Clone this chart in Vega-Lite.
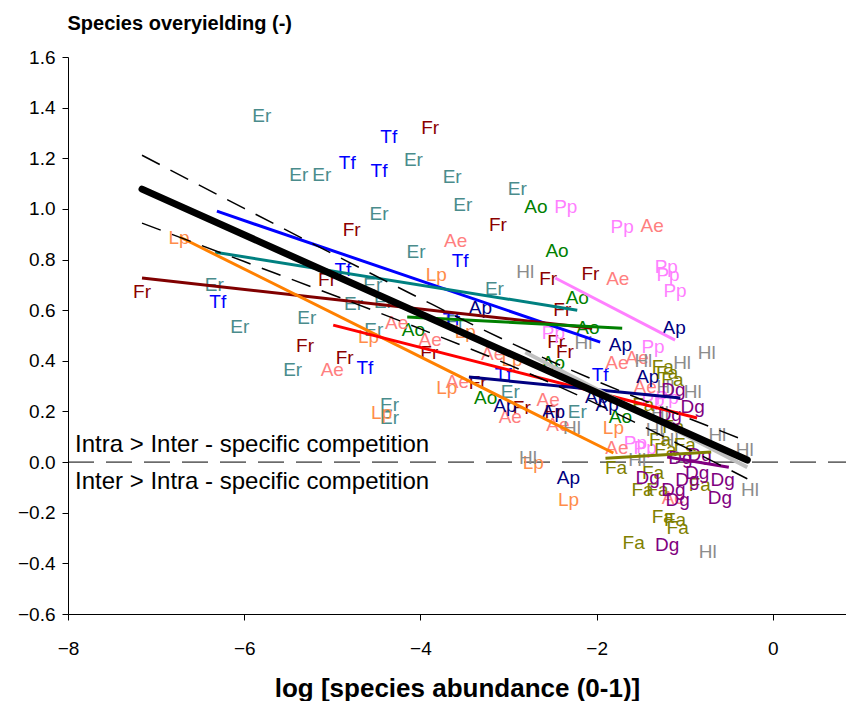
{
  "$schema": "https://vega.github.io/schema/vega-lite/v6.json",
  "autosize": {"type": "none"},
  "width": 778,
  "height": 557,
  "padding": {"left": 68, "top": 57, "right": 0, "bottom": 87},
  "background": "white",
  "config": {"font": "Liberation Sans", "view": {"stroke": null}},
  "datasets": {
    "lab": [
      {"sp":"Er","x":-5.80,"y":1.366},{"sp":"Er","x":-5.38,"y":1.133},{"sp":"Er","x":-5.12,"y":1.133},{"sp":"Er","x":-4.08,"y":1.193},{"sp":"Er","x":-3.64,"y":1.126},{"sp":"Er","x":-4.47,"y":0.979},{"sp":"Er","x":-3.52,"y":1.015},{"sp":"Er","x":-2.90,"y":1.078},{"sp":"Er","x":-4.05,"y":0.829},{"sp":"Er","x":-3.16,"y":0.683},{"sp":"Er","x":-6.34,"y":0.699},{"sp":"Er","x":-4.54,"y":0.699},{"sp":"Er","x":-4.76,"y":0.624},{"sp":"Er","x":-4.42,"y":0.632},{"sp":"Er","x":-6.05,"y":0.533},{"sp":"Er","x":-5.29,"y":0.569},{"sp":"Er","x":-4.53,"y":0.521},{"sp":"Er","x":-3.61,"y":0.553},{"sp":"Er","x":-5.45,"y":0.363},{"sp":"Er","x":-2.98,"y":0.276},{"sp":"Er","x":-2.22,"y":0.197},{"sp":"Er","x":-4.35,"y":0.225},{"sp":"Er","x":-4.35,"y":0.174},
      {"sp":"Tf","x":-4.36,"y":1.284},{"sp":"Tf","x":-4.83,"y":1.181},{"sp":"Tf","x":-4.47,"y":1.149},{"sp":"Tf","x":-3.55,"y":0.794},{"sp":"Tf","x":-6.30,"y":0.632},{"sp":"Tf","x":-4.88,"y":0.758},{"sp":"Tf","x":-3.65,"y":0.561},{"sp":"Tf","x":-4.63,"y":0.371},{"sp":"Tf","x":-3.06,"y":0.344},{"sp":"Tf","x":-1.96,"y":0.344},
      {"sp":"Fr","x":-3.89,"y":1.319},{"sp":"Fr","x":-4.78,"y":0.916},{"sp":"Fr","x":-3.12,"y":0.936},{"sp":"Fr","x":-2.55,"y":0.723},{"sp":"Fr","x":-2.07,"y":0.743},{"sp":"Fr","x":-7.16,"y":0.671},{"sp":"Fr","x":-5.06,"y":0.719},{"sp":"Fr","x":-2.39,"y":0.600},{"sp":"Fr","x":-5.31,"y":0.458},{"sp":"Fr","x":-3.90,"y":0.430},{"sp":"Fr","x":-4.86,"y":0.411},{"sp":"Fr","x":-2.46,"y":0.474},{"sp":"Fr","x":-2.36,"y":0.434},{"sp":"Fr","x":-3.35,"y":0.312},{"sp":"Fr","x":-2.85,"y":0.213},{"sp":"Fr","x":-2.49,"y":0.197},
      {"sp":"Ao","x":-2.69,"y":1.007},{"sp":"Ao","x":-2.45,"y":0.833},{"sp":"Ao","x":-2.22,"y":0.648},{"sp":"Ao","x":-2.10,"y":0.529},{"sp":"Ao","x":-4.08,"y":0.521},{"sp":"Ao","x":-2.49,"y":0.391},{"sp":"Ao","x":-3.26,"y":0.253},{"sp":"Ao","x":-1.73,"y":0.178},
      {"sp":"Pp","x":-2.35,"y":1.007},{"sp":"Pp","x":-1.71,"y":0.928},{"sp":"Pp","x":-1.21,"y":0.770},{"sp":"Pp","x":-1.19,"y":0.739},{"sp":"Pp","x":-1.11,"y":0.675},{"sp":"Pp","x":-2.49,"y":0.509},{"sp":"Pp","x":-1.36,"y":0.454},{"sp":"Pp","x":-1.36,"y":0.245},{"sp":"Pp","x":-1.20,"y":0.253},{"sp":"Pp","x":-1.56,"y":0.075},{"sp":"Pp","x":-1.45,"y":0.055},
      {"sp":"Ae","x":-3.60,"y":0.873},{"sp":"Ae","x":-1.37,"y":0.932},{"sp":"Ae","x":-1.76,"y":0.723},{"sp":"Ae","x":-4.27,"y":0.549},{"sp":"Ae","x":-3.89,"y":0.482},{"sp":"Ae","x":-5.00,"y":0.363},{"sp":"Ae","x":-3.18,"y":0.427},{"sp":"Ae","x":-3.58,"y":0.316},{"sp":"Ae","x":-2.98,"y":0.178},{"sp":"Ae","x":-2.55,"y":0.245},{"sp":"Ae","x":-2.44,"y":0.146},{"sp":"Ae","x":-1.77,"y":0.391},{"sp":"Ae","x":-1.54,"y":0.411},{"sp":"Ae","x":-1.45,"y":0.296},{"sp":"Ae","x":-1.77,"y":0.055},{"sp":"Ae","x":-1.13,"y":-0.142},
      {"sp":"Lp","x":-6.74,"y":0.885},{"sp":"Lp","x":-3.82,"y":0.739},{"sp":"Lp","x":-4.59,"y":0.494},{"sp":"Lp","x":-3.49,"y":0.513},{"sp":"Lp","x":-2.96,"y":0.403},{"sp":"Lp","x":-3.70,"y":0.292},{"sp":"Lp","x":-4.44,"y":0.194},{"sp":"Lp","x":-2.72,"y":-0.004},{"sp":"Lp","x":-2.32,"y":-0.150},{"sp":"Lp","x":-1.81,"y":0.134},
      {"sp":"Ap","x":-3.32,"y":0.608},{"sp":"Ap","x":-1.12,"y":0.529},{"sp":"Ap","x":-1.73,"y":0.462},{"sp":"Ap","x":-1.42,"y":0.336},{"sp":"Ap","x":-2.00,"y":0.257},{"sp":"Ap","x":-1.88,"y":0.225},{"sp":"Ap","x":-3.04,"y":0.221},{"sp":"Ap","x":-2.49,"y":0.197},{"sp":"Ap","x":-2.32,"y":-0.063},
      {"sp":"Hl","x":-2.81,"y":0.750},{"sp":"Hl","x":-2.15,"y":0.470},{"sp":"Hl","x":-0.75,"y":0.430},{"sp":"Hl","x":-1.47,"y":0.399},{"sp":"Hl","x":-1.03,"y":0.391},{"sp":"Hl","x":-1.22,"y":0.296},{"sp":"Hl","x":-0.91,"y":0.276},{"sp":"Hl","x":-1.28,"y":0.194},{"sp":"Hl","x":-1.34,"y":0.126},{"sp":"Hl","x":-0.63,"y":0.107},{"sp":"Hl","x":-0.32,"y":0.047},{"sp":"Hl","x":-2.28,"y":0.134},{"sp":"Hl","x":-2.78,"y":0.016},{"sp":"Hl","x":-1.54,"y":0.008},{"sp":"Hl","x":-0.26,"y":-0.111},{"sp":"Hl","x":-0.74,"y":-0.355},{"sp":"Hl","x":-1.17,"y":0.087},
      {"sp":"Fa","x":-1.25,"y":0.375},{"sp":"Fa","x":-1.20,"y":0.352},{"sp":"Fa","x":-1.14,"y":0.324},{"sp":"Fa","x":-1.47,"y":0.225},{"sp":"Fa","x":-1.13,"y":0.138},{"sp":"Fa","x":-1.78,"y":-0.024},{"sp":"Fa","x":-1.36,"y":-0.043},{"sp":"Fa","x":-1.48,"y":-0.111},{"sp":"Fa","x":-1.31,"y":-0.111},{"sp":"Fa","x":-1.25,"y":-0.217},{"sp":"Fa","x":-1.11,"y":-0.229},{"sp":"Fa","x":-1.08,"y":-0.261},{"sp":"Fa","x":-1.58,"y":-0.320},{"sp":"Fa","x":-0.83,"y":-0.091},{"sp":"Fa","x":-1.22,"y":0.047},{"sp":"Fa","x":-1.00,"y":0.067},{"sp":"Fa","x":-1.28,"y":0.087},
      {"sp":"Dg","x":-1.13,"y":0.284},{"sp":"Dg","x":-0.91,"y":0.217},{"sp":"Dg","x":-1.17,"y":0.186},{"sp":"Dg","x":-1.42,"y":-0.063},{"sp":"Dg","x":-1.13,"y":-0.111},{"sp":"Dg","x":-1.08,"y":-0.150},{"sp":"Dg","x":-0.60,"y":-0.142},{"sp":"Dg","x":-0.57,"y":-0.071},{"sp":"Dg","x":-0.97,"y":-0.071},{"sp":"Dg","x":-1.20,"y":-0.328},{"sp":"Dg","x":-0.86,"y":-0.043},{"sp":"Dg","x":-0.83,"y":0.028},{"sp":"Dg","x":-1.05,"y":0.016}
    ],
    "sl": [
      {"sp":"Tf","x":-6.31,"y":0.991},{"sp":"Tf","x":-1.96,"y":0.474},
      {"sp":"Er","x":-6.33,"y":0.829},{"sp":"Er","x":-2.22,"y":0.600},
      {"sp":"Fr","x":-7.16,"y":0.727},{"sp":"Fr","x":-2.05,"y":0.529},
      {"sp":"Lp","x":-6.73,"y":0.889},{"sp":"Lp","x":-1.81,"y":0.036},
      {"sp":"Ao","x":-4.15,"y":0.573},{"sp":"Ao","x":-1.71,"y":0.529},
      {"sp":"Ae","x":-4.99,"y":0.541},{"sp":"Ae","x":-0.86,"y":0.174},
      {"sp":"Pp","x":-2.47,"y":0.727},{"sp":"Pp","x":-1.11,"y":0.482},
      {"sp":"Ap","x":-3.45,"y":0.336},{"sp":"Ap","x":-1.05,"y":0.253},
      {"sp":"Fa","x":-1.90,"y":0.015},{"sp":"Fa","x":-0.70,"y":0.040},
      {"sp":"Dg","x":-1.20,"y":0.020},{"sp":"Dg","x":-0.50,"y":-0.020}
    ],
    "hl": [{"x":-2.81,"y":0.434},{"x":-0.29,"y":-0.020}],
    "ov": [{"x":-7.16,"y":1.078},{"x":-0.29,"y":0.008}],
    "ci": [
      {"b":"u","x":-7.16,"y":1.212},{"b":"u","x":-6,"y":1.002},{"b":"u","x":-5,"y":0.823},{"b":"u","x":-4,"y":0.646},{"b":"u","x":-3,"y":0.475},{"b":"u","x":-2,"y":0.320},{"b":"u","x":-1,"y":0.179},{"b":"u","x":-0.29,"y":0.082},
      {"b":"l","x":-7.16,"y":0.944},{"b":"l","x":-6,"y":0.792},{"b":"l","x":-5,"y":0.661},{"b":"l","x":-4,"y":0.526},{"b":"l","x":-3,"y":0.385},{"b":"l","x":-2,"y":0.230},{"b":"l","x":-1,"y":0.059},{"b":"l","x":-0.29,"y":-0.066}
    ],
    "zr": [{"x":-8,"y":0},{"x":0.83,"y":0}],
    "nt": [
      {"t":"Intra > Inter - specific competition","x":-7.92,"y":0.067},
      {"t":"Inter > Intra - specific competition","x":-7.92,"y":-0.079}
    ]
  },
  "encoding": {
    "x": {"field":"x","type":"quantitative","scale":{"domain":[-8,0.83],"nice":false,"zero":false},
      "axis":{"values":[-8,-6,-4,-2,0],"grid":false,"title":"log [species abundance (0-1)]","titleFontSize":26,"titleFontWeight":"bold","titleColor":"black","titleX":389,"titleY":82,"titleAlign":"center","titleBaseline":"alphabetic","labelFontSize":19,"labelColor":"black","labelPadding":19,"tickColor":"black","tickSize":6,"domainColor":"black","labelFlush":false}},
    "y": {"field":"y","type":"quantitative","scale":{"domain":[-0.6,1.6],"nice":false,"zero":false},
      "axis":{"values":[-0.6,-0.4,-0.2,0,0.2,0.4,0.6,0.8,1.0,1.2,1.4,1.6],"format":".1f","grid":false,"title":"Species overyielding (-)","titleAngle":0,"titleAlign":"left","titleBaseline":"alphabetic","titleX":-1,"titleY":-28,"titleFontSize":20,"titleFontWeight":"bold","titleColor":"black","labelFontSize":19,"labelColor":"black","labelPadding":7,"tickColor":"black","tickSize":6,"domainColor":"black","labelFlush":false}}
  },
  "layer": [
    {"data":{"name":"zr"},"mark":{"type":"line","color":"black","strokeWidth":1,"strokeDash":[26,12]}},
    {"data":{"name":"nt"},"mark":{"type":"text","align":"left","baseline":"middle","fontSize":24,"color":"black"},"encoding":{"text":{"field":"t"}}},
    {"data":{"name":"lab"},"mark":{"type":"text","align":"center","baseline":"middle","fontSize":19},
      "encoding":{"text":{"field":"sp"},"color":{"field":"sp","type":"nominal","legend":null,
        "scale":{"domain":["Er","Tf","Fr","Ao","Pp","Ae","Lp","Ap","Hl","Fa","Dg"],"range":["#4a8c8c","#0000ff","#8b0000","#008000","#ff80ff","#ff7f7f","#ff8c4a","#000080","#8c8c8c","#808000","#800080"]}}}},
    {"data":{"name":"sl"},"mark":{"type":"line","strokeWidth":3},
      "encoding":{"detail":{"field":"sp"},"color":{"field":"sp","type":"nominal","legend":null,
        "scale":{"domain":["Er","Tf","Fr","Ao","Pp","Ae","Lp","Ap","Fa","Dg"],"range":["#008080","#0000ff","#800000","#008000","#ff80ff","#ff0000","#ff8000","#000080","#808000","#800080"]}}}},
    {"data":{"name":"hl"},"mark":{"type":"line","strokeWidth":4,"color":"#c0c0c0"}},
    {"data":{"name":"ov"},"mark":{"type":"line","strokeWidth":7,"color":"black","strokeCap":"round"}},
    {"data":{"name":"ci"},"mark":{"type":"line","strokeWidth":1.5,"color":"black","strokeDash":[20,12],"interpolate":"monotone"},"encoding":{"detail":{"field":"b"}}}
  ],
  "resolve": {"scale": {"color": "independent"}}
}
